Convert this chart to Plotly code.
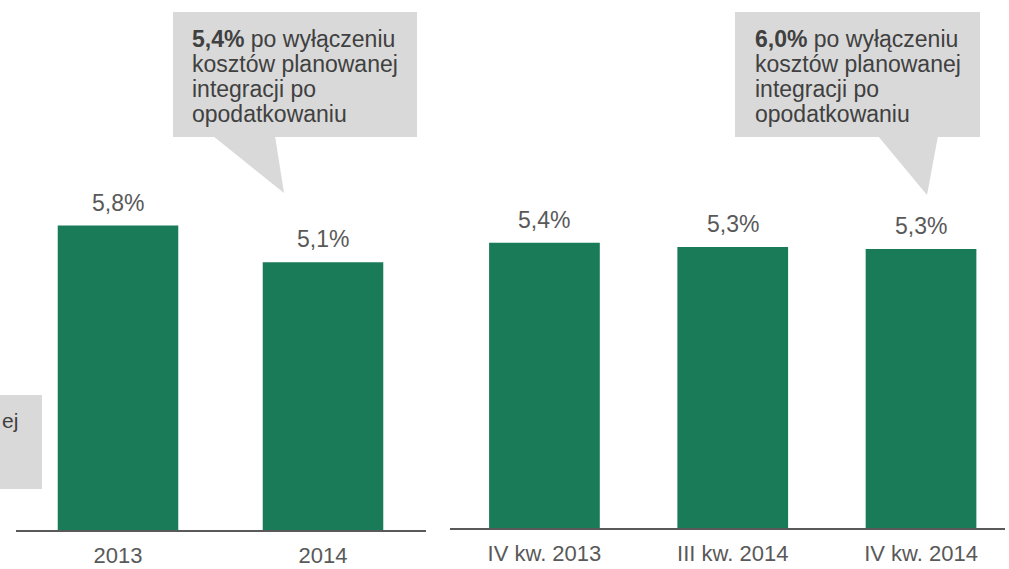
import plotly.graph_objects as go

# ---- data ----
years = ["2013", "2014"]
years_values = [5.8, 5.1]
years_labels = ["5,8%", "5,1%"]

quarters = ["IV kw. 2013", "III kw. 2014", "IV kw. 2014"]
quarters_values = [5.4, 5.32, 5.28]
quarters_labels = ["5,4%", "5,3%", "5,3%"]

callout_left_value = "5,4%"
callout_right_value = "6,0%"
callout_lines = ["po wyłączeniu", "kosztów planowanej", "integracji po", "opodatkowaniu"]

W, H = 1009, 569
GREEN = "#1a7b59"
GRAY_BOX = "#d9d9d9"
TXT = "#595959"
FONT = "Arial, Liberation Sans, sans-serif"


def px(x):
    return x / W


def py(y):
    return 1 - y / H


fig = go.Figure()
fig.add_trace(go.Bar(x=years, y=years_values, marker=dict(color=GREEN, line=dict(width=0)),
                     xaxis="x", yaxis="y", hoverinfo="skip"))
fig.add_trace(go.Bar(x=quarters, y=quarters_values, marker=dict(color=GREEN, line=dict(width=0)),
                     xaxis="x2", yaxis="y2", hoverinfo="skip"))

annotations = []
for i, (v, t) in enumerate(zip(years_values, years_labels)):
    annotations.append(dict(x=i, y=v, xref="x", yref="y", text=t, showarrow=False,
                            yanchor="bottom", yshift=8, font=dict(size=23, color=TXT, family=FONT)))
for i, (v, t) in enumerate(zip(quarters_values, quarters_labels)):
    annotations.append(dict(x=i, y=v, xref="x2", yref="y2", text=t, showarrow=False,
                            yanchor="bottom", yshift=8, font=dict(size=23, color=TXT, family=FONT)))

shapes = []
# callout boxes with tails
for (bx0, bx1, t0, t1, tipx, tipy, tx, val) in [
    (173, 417, 213, 275, 284, 193, 190, callout_left_value),
    (735, 980, 878, 938, 927, 195, 753, callout_right_value),
]:
    shapes.append(dict(type="rect", xref="paper", yref="paper",
                       x0=px(bx0), x1=px(bx1), y0=py(137), y1=py(12),
                       fillcolor=GRAY_BOX, line=dict(width=0), layer="below"))
    shapes.append(dict(type="path", xref="paper", yref="paper",
                       path=f"M {px(t0)},{py(136)} L {px(t1)},{py(136)} L {px(tipx)},{py(tipy)} Z",
                       fillcolor=GRAY_BOX, line=dict(width=0), layer="below"))
    lines = [f"<b>{val}</b> " + callout_lines[0]] + callout_lines[1:]
    for i, ln in enumerate(lines):
        annotations.append(dict(x=px(tx), y=py(39 + 25 * i), xref="paper", yref="paper",
                                text=ln, showarrow=False, xanchor="left", yanchor="middle",
                                font=dict(size=23, color="#404040", family=FONT)))

# partial box at left edge
shapes.append(dict(type="rect", xref="paper", yref="paper",
                   x0=0, x1=px(42), y0=py(489), y1=py(395),
                   fillcolor=GRAY_BOX, line=dict(width=0), layer="below"))
annotations.append(dict(x=px(0), y=py(420), xref="paper", yref="paper", text="ej",
                        showarrow=False, xanchor="left", yanchor="middle",
                        font=dict(size=21, color="#404040", family=FONT)))

axis_common = dict(showline=True, linecolor=TXT, linewidth=2, ticks="outside", ticklen=5,
                   tickcolor="rgba(0,0,0,0)", tickfont=dict(size=22, color=TXT, family=FONT),
                   showgrid=False, zeroline=False, fixedrange=True, automargin=False)

fig.update_layout(
    width=W, height=H, margin=dict(l=0, r=0, t=0, b=0, autoexpand=False),
    paper_bgcolor="white", plot_bgcolor="rgba(0,0,0,0)",
    showlegend=False, bargap=0.412,
    xaxis=dict(domain=[px(15.5), px(425.5)], anchor="y", type="category", range=[-0.5, 1.5], **axis_common),
    yaxis=dict(domain=[39 / H, 1], range=[0, 530 / 52.5], visible=False, fixedrange=True, automargin=False),
    xaxis2=dict(domain=[px(450.3), px(1005)], anchor="y2", type="category", range=[-0.5, 2.446], **axis_common),
    yaxis2=dict(domain=[41 / H, 1], range=[0, 528 / 52.83], visible=False, fixedrange=True, automargin=False),
    annotations=annotations, shapes=shapes,
    font=dict(family=FONT),
)

post = (
    "document.documentElement.style.margin='0';"
    "document.documentElement.style.overflow='hidden';"
    "document.body.style.margin='0';"
    "document.body.style.overflow='hidden';"
)

fig.write_html("out.html", config={"displayModeBar": False}, post_script=post)
